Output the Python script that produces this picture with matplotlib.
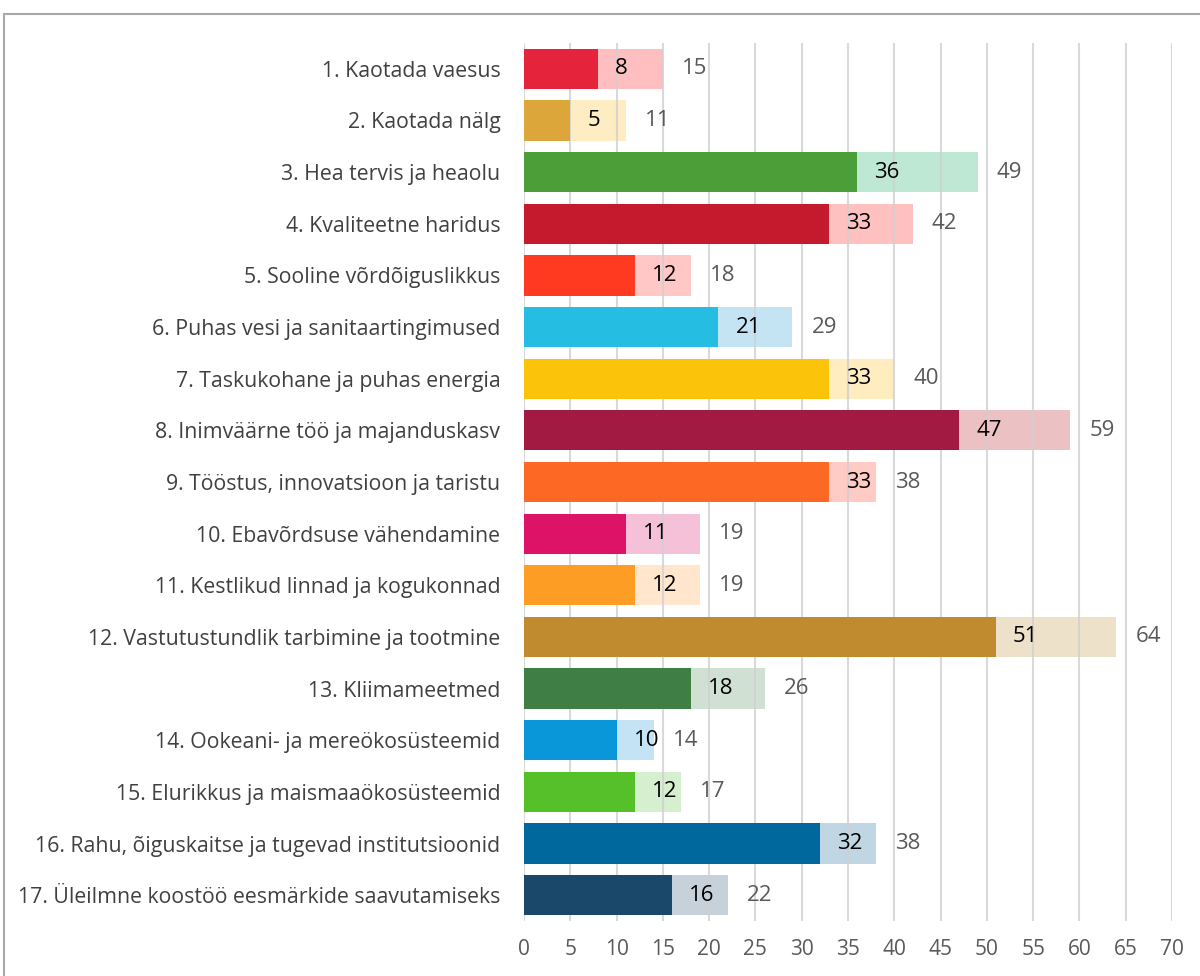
import matplotlib
matplotlib.use("Agg")
import matplotlib.pyplot as plt
from matplotlib.patches import Rectangle

categories = [
    "1. Kaotada vaesus",
    "2. Kaotada nälg",
    "3. Hea tervis ja heaolu",
    "4. Kvaliteetne haridus",
    "5. Sooline võrdõiguslikkus",
    "6. Puhas vesi ja sanitaartingimused",
    "7. Taskukohane ja puhas energia",
    "8. Inimväärne töö ja majanduskasv",
    "9. Tööstus, innovatsioon ja taristu",
    "10. Ebavõrdsuse vähendamine",
    "11. Kestlikud linnad ja kogukonnad",
    "12. Vastutustundlik tarbimine ja tootmine",
    "13. Kliimameetmed",
    "14. Ookeani- ja mereökosüsteemid",
    "15. Elurikkus ja maismaaökosüsteemid",
    "16. Rahu, õiguskaitse ja tugevad institutsioonid",
    "17. Üleilmne koostöö eesmärkide saavutamiseks",
]
inner_values = [8, 5, 36, 33, 12, 21, 33, 47, 33, 11, 12, 51, 18, 10, 12, 32, 16]
total_values = [15, 11, 49, 42, 18, 29, 40, 59, 38, 19, 19, 64, 26, 14, 17, 38, 22]

dark_colors = ["#E5243B", "#DDA63A", "#4C9F38", "#C5192D", "#FF3A21", "#26BDE2",
               "#FCC30B", "#A21942", "#FD6925", "#DD1367", "#FD9D24", "#BF8B2E",
               "#3F7E44", "#0A97D9", "#56C02B", "#00689D", "#19486A"]
light_colors = ["#FFBFC0", "#FEEDC2", "#BEE8D3", "#FFC0C0", "#FFC8C6", "#C4E4F4",
                "#FFEDC0", "#EBC1C4", "#FFCBC4", "#F5C1D9", "#FFE6CD", "#EEE1CA",
                "#D0E1D3", "#C4E4F5", "#D6EFCE", "#C0D6E3", "#C6D1DA"]
xticks = list(range(0, 75, 5))

fig = plt.figure(figsize=(12, 9.76), dpi=100)
plt.rcParams['font.family'] = ['Open Sans', 'DejaVu Sans']

W, H = 1200, 976
left, right, top, bottom = 524, 1172, 43, 921
ax = fig.add_axes([left / W, 1 - bottom / H, (right - left) / W, (bottom - top) / H])

# outer frame
fig.patches.append(Rectangle((4 / W, -0.1), 1.2, 1 - 14 / H + 0.1, transform=fig.transFigure,
                             fill=False, edgecolor="#A9A9A9", linewidth=1.5, zorder=0))

y = list(range(len(categories)))
ax.barh(y, total_values, height=0.78, color=light_colors, zorder=1)
ax.barh(y, inner_values, height=0.78, color=dark_colors, zorder=3)

for xv in xticks:
    ax.axvline(xv, color="#D0D0D0", linewidth=1.5, zorder=2, alpha=0.8)

px = 70 / (right - left)
for i, (a, t) in enumerate(zip(inner_values, total_values)):
    ax.text(a + 17 * px, i, str(a), ha="left", va="center", fontsize=16, color="black", zorder=5)
    ax.text(t + 19 * px, i, str(t), ha="left", va="center", fontsize=16, color="#595959", zorder=5)

ax.set_xlim(0, 70)
ax.set_ylim(len(categories) - 0.5, -0.5)
ax.set_xticks(xticks)
ax.set_xticklabels([str(v) for v in xticks], fontsize=15, color="#595959")
ax.set_yticks(y)
ax.set_yticklabels(categories, fontsize=15.3, color="#404040")
ax.tick_params(axis="both", length=0)
ax.tick_params(axis="x", pad=13)
ax.tick_params(axis="y", pad=17)
for s in ax.spines.values():
    s.set_visible(False)

fig.savefig("out.png", dpi=100)
